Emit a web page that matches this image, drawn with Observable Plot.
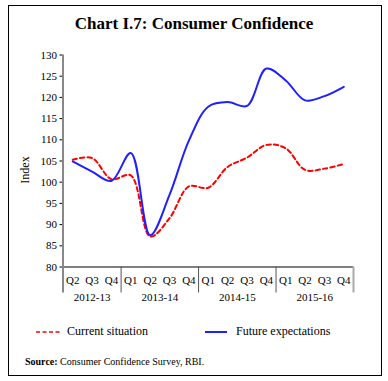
<!DOCTYPE html>
<html><head><meta charset="utf-8">
<script src="https://cdn.jsdelivr.net/npm/d3@7"></script>
<script src="https://cdn.jsdelivr.net/npm/@observablehq/plot@0.6"></script>
<style>
body{margin:0;background:#fff;font-family:"Liberation Serif","DejaVu Serif",serif;color:#000;}
#wrap{position:relative;width:388px;height:381px;overflow:hidden;background:#fff;}
#frame{position:absolute;left:8px;top:5px;width:374px;height:371px;border:1.5px solid #000;box-sizing:border-box;}
#title{position:absolute;left:0;width:388px;top:14px;text-align:center;font-weight:bold;font-size:17px;}
#chart{position:absolute;left:0;top:40px;}
#ylabel{position:absolute;left:25px;top:170px;transform:translate(-50%,-50%) rotate(-90deg);font-size:12px;line-height:1;white-space:nowrap;}
.leg{position:absolute;top:324px;font-size:12px;display:flex;align-items:center;white-space:nowrap;}
#source{position:absolute;left:25px;top:356px;font-size:10px;}
</style>
</head><body>
<div id="wrap">
  <div id="frame"></div>
  <div id="title">Chart I.7: Consumer Confidence</div>
  <div id="chart"></div>
  <div id="ylabel"></div>
  <div class="leg" id="leg1" style="left:36px"></div>
  <div class="leg" id="leg2" style="left:205px"></div>
  <div id="source"><b>Source:</b> Consumer Confidence Survey, RBI.</div>
</div>
<script>
const quarters = ["Q2","Q3","Q4","Q1","Q2","Q3","Q4","Q1","Q2","Q3","Q4","Q1","Q2","Q3","Q4"];
const years = ["2012-13","2013-14","2014-15","2015-16"];
const quartersPerYear = [3,4,4,4];
const currentSituation = [105.3, 105.7, 100.7, 101.6, 87.2, 91.5, 99.0, 98.7, 103.6, 105.8, 108.8, 108.0, 102.9, 103.2, 104.3];
const futureExpectations = [104.9, 102.5, 100.3, 106.9, 87.5, 97.0, 109.8, 117.8, 118.9, 118.0, 126.8, 124.0, 119.3, 120.3, 122.5];
const yTicks = [80, 85, 90, 95, 100, 105, 110, 115, 120, 125, 130];
const yLabel = "Index";
const seriesNames = ["Current situation", "Future expectations"];
const seriesColors = ["#ff0000", "#2020ff"];

// year group geometry (in quarter-index units)
const yearStarts = [];
let acc = 0;
for (const n of quartersPerYear) { yearStarts.push(acc); acc += n; }
const yearCenters = yearStarts.map((s, k) => s + (quartersPerYear[k] - 1) / 2);
const boundaries = [...yearStarts.map(s => s - 0.5), acc - 0.5];
const idx = quarters.map((_, i) => i);

const plot = Plot.plot({
  width: 388,
  height: 270,
  marginLeft: 62.5,
  marginRight: 35,
  marginTop: 14.5,
  marginBottom: 43.5,
  style: {fontFamily: "'Liberation Serif', serif", fontSize: "11px", background: "transparent", color: "#000"},
  x: {domain: [-0.5, quarters.length - 0.5], axis: null},
  y: {domain: [80, 130], ticks: yTicks, tickSize: 3, tickPadding: 3, label: null},
  marks: [
    Plot.ruleY([80], {stroke: "#000", strokeWidth: 1.2}),
    Plot.ruleX([boundaries[0]], {y1: 130, y2: 80, stroke: "#888", strokeWidth: 2, insetBottom: -26}),
    Plot.ruleX(boundaries.slice(1, -1), {y1: 80, y2: 80, stroke: "#555", strokeWidth: 1, insetBottom: -26}),
    Plot.ruleX([boundaries[boundaries.length - 1]], {y1: 80, y2: 80, stroke: "#aaa", strokeWidth: 2, insetBottom: -26}),
    Plot.text(idx, {x: d => d, y: () => 80, text: i => quarters[i], dy: 13, fontSize: 11}),
    Plot.text(years, {x: (d, k) => yearCenters[k], y: () => 80, text: d => d, dy: 30, fontSize: 11}),
    Plot.line(currentSituation, {x: (d, i) => i, y: d => d, stroke: seriesColors[0], strokeWidth: 2, strokeDasharray: "4.5,3", curve: "catmull-rom"}),
    Plot.line(futureExpectations, {x: (d, i) => i, y: d => d, stroke: seriesColors[1], strokeWidth: 2, curve: "catmull-rom"})
  ]
});
document.getElementById("chart").appendChild(plot);
document.getElementById("ylabel").textContent = yLabel;

function legendItem(id, k, dash) {
  const el = document.getElementById(id);
  el.innerHTML = `<svg width="27" height="4" style="margin-right:4px"><line x1="0" y1="2" x2="${dash ? 26 : 22}" y2="2" stroke="${seriesColors[k]}" stroke-width="${dash ? 1.7 : 2}" ${dash ? 'stroke-dasharray="4,2.5"' : ''}/></svg><span>${seriesNames[k]}</span>`;
}
legendItem("leg1", 0, true);
legendItem("leg2", 1, false);
</script>
</body></html>
